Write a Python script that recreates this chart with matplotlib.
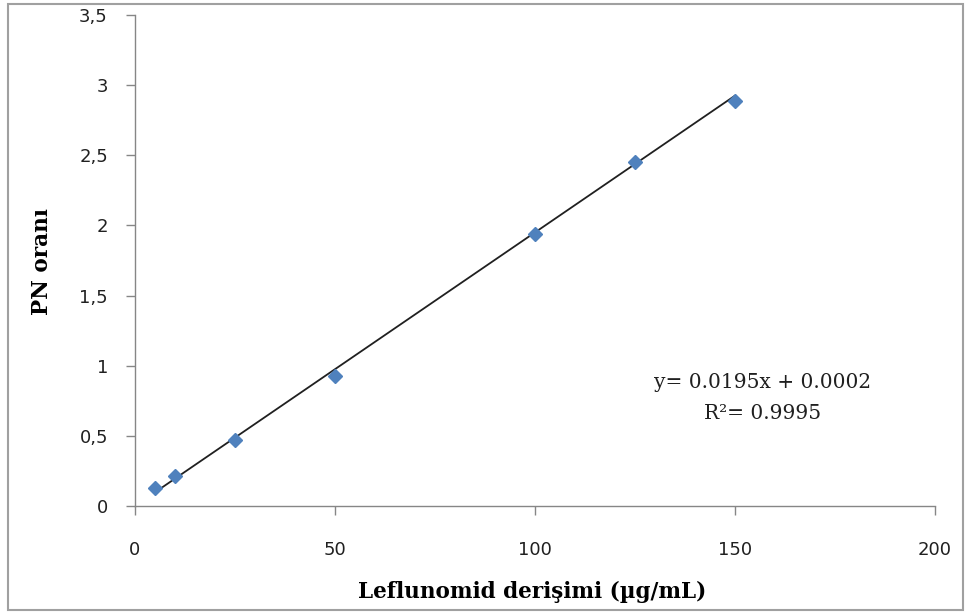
import matplotlib
matplotlib.use("Agg")
import matplotlib.pyplot as plt
from matplotlib.patches import Rectangle
import numpy as np

conc = [5, 10, 25, 50, 100, 125, 150]
ratio = [0.128, 0.214, 0.47, 0.927, 1.94, 2.45, 2.89]
slope = 0.0195
intercept = 0.0002
r2 = 0.9995
yticks = [0, 0.5, 1, 1.5, 2, 2.5, 3, 3.5]
ytick_labels = ["0", "0,5", "1", "1,5", "2", "2,5", "3", "3,5"]
xticks = [0, 50, 100, 150, 200]

W, H = 965, 614
fig = plt.figure(figsize=(W/100, H/100), dpi=100)
fig.patches.append(Rectangle((8/W, 4/H), 955/W, 606/H, transform=fig.transFigure,
                             fill=False, edgecolor="#a0a0a0", linewidth=1.5))
ax = fig.add_axes([135/W, 1-506/H, 800/W, 491/H])

xs = np.array([min(conc), max(conc)])
ax.plot(xs, slope*xs + intercept, color="#202020", linewidth=1.3, zorder=2)
ax.plot(conc, ratio, linestyle="none", marker="D", markersize=7.5,
        color="#4F81BD", markeredgecolor="#4F81BD", zorder=3)

ax.set_xlim(0, 200)
ax.set_ylim(0, 3.5)
ax.set_xticks(xticks)
ax.set_xticklabels([str(v) for v in xticks])
ax.set_yticks(yticks)
ax.set_yticklabels(ytick_labels)
for s in ["top", "right"]:
    ax.spines[s].set_visible(False)
for s in ["left", "bottom"]:
    ax.spines[s].set_color("#868686")
    ax.spines[s].set_linewidth(1.0)
ax.tick_params(axis="both", direction="out", length=6.5, width=1.0, color="#868686",
               labelsize=13, labelcolor="#202020")
ax.tick_params(axis="x", pad=19)
ax.tick_params(axis="y", pad=13)

fig.text(532/W, 1-592/H, "Leflunomid derişimi (µg/mL)", family="DejaVu Serif",
         fontweight="bold", fontsize=15.5, ha="center", va="center")
fig.text(42/W, 1-262/H, "PN oranı", family="DejaVu Serif", fontweight="bold",
         fontsize=15.5, ha="center", va="center", rotation=90)

ax.text(157, 0.77, f"y= {slope}x + {intercept:.4f}\nR²= {r2}", ha="center", va="center",
        family="DejaVu Serif", fontsize=14.5, linespacing=1.75, color="#202020")

fig.savefig("out.png", dpi=100)
